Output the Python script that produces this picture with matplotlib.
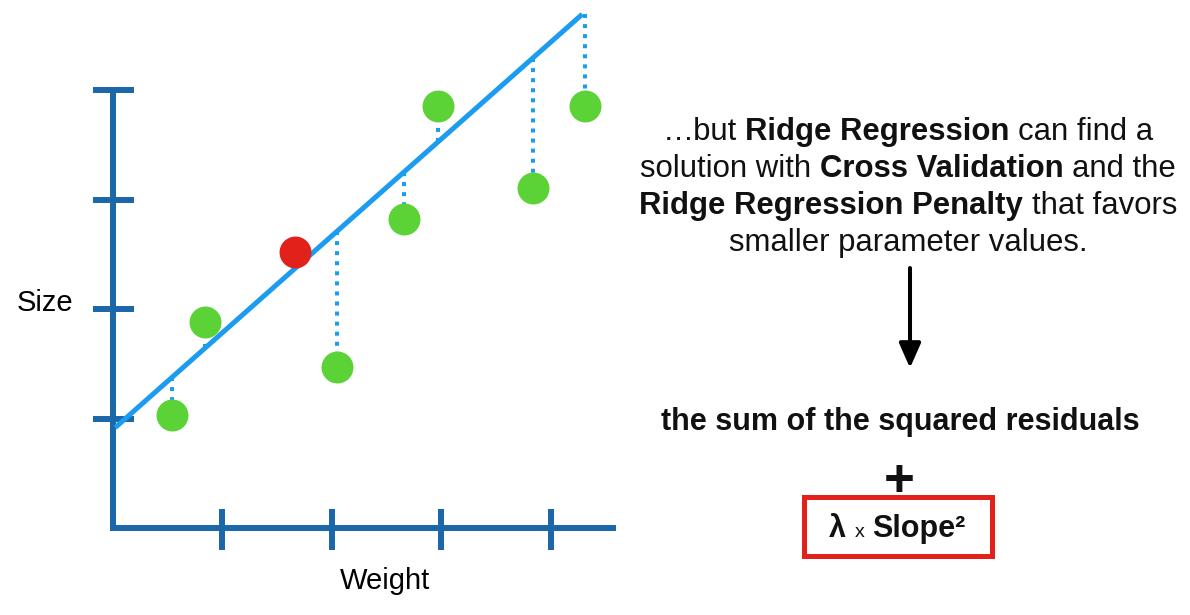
import matplotlib.pyplot as plt
import numpy as np
from matplotlib.patches import Rectangle, FancyArrowPatch

# data (axis units: one tick = 1)
weight = [0.54, 0.84, 2.05, 2.66, 2.97, 3.84, 4.31]
size = [1.03, 1.88, 1.47, 2.82, 3.86, 3.11, 3.86]
red_weight = [1.66]
red_size = [2.52]
intercept = 0.9
slope = 0.885
line_x = [0.02, 4.29]
x_ticks = [1, 2, 3, 4]
y_ticks = [1, 2, 3, 4]

W, H = 1190, 615
unit = 109.4          # pixels per axis unit
ox, oy = 113, 528     # pixel position of the origin

axis_col = "#1b67a9"
line_col = "#1c9cf0"
green = "#5bd236"
red = "#e3211b"
font = "Liberation Sans"

fig = plt.figure(figsize=(W / 100, H / 100), dpi=100)
ax = fig.add_axes([0, 0, 1, 1])
ax.set_xlim(-ox / unit, (W - ox) / unit)
ax.set_ylim((oy - H) / unit, oy / unit)
ax.axis("off")

# axes
ax.plot([0, 0, 4.6], [4, 0, 0], color=axis_col, lw=4.3, solid_joinstyle="miter",
        solid_capstyle="butt", zorder=1)
for t in y_ticks:
    ax.plot([-0.18, 0.19], [t, t], color=axis_col, lw=4.3, solid_capstyle="butt", zorder=1)
for t in x_ticks:
    ax.plot([t, t], [-0.2, 0.17], color=axis_col, lw=4.3, solid_capstyle="butt", zorder=1)

# fitted line and residuals
lx = np.array(line_x)
top = intercept + slope * lx[-1]
ax.plot(lx, intercept + slope * lx, color=line_col, lw=3.6, solid_capstyle="butt", zorder=3)
for x, y in zip(weight, size):
    fit = min(intercept + slope * x, top)
    ax.plot([x, x], [fit, y], color=line_col, lw=2.9, linestyle=(0, (1, 1.5)),
            dash_capstyle="butt", zorder=2)

ax.plot(weight, size, "o", ms=23, color=green, mec="none", zorder=4)
ax.plot(red_weight, red_size, "o", ms=23, color=red, mec="none", zorder=4)


def fx(px):
    return px / W


def fy(py):
    return 1 - py / H


fig.text(fx(45), fy(311), "Size", fontsize=21, family=font, ha="center", va="baseline")
fig.text(fx(385), fy(589), "Weight", fontsize=21, family=font, ha="center", va="baseline")

renderer = fig.canvas.get_renderer()


def text_width(s, weight_, fs):
    t = fig.text(0, 0, s, fontsize=fs, family=font, fontweight=weight_)
    w = t.get_window_extent(renderer).width
    t.remove()
    return w


def rich_line(segments, cx, base, fs):
    space = {}
    for wt in ("normal", "bold"):
        space[wt] = text_width("x x", wt, fs) - text_width("xx", wt, fs)
    pieces = []
    total = 0
    for s, bold in segments:
        wt = "bold" if bold else "normal"
        lead = len(s) - len(s.lstrip(" "))
        trail = len(s) - len(s.rstrip(" "))
        core = s.strip(" ")
        w = text_width(core, wt, fs)
        pieces.append((core, wt, lead * space[wt], w, trail * space[wt]))
        total += lead * space[wt] + w + trail * space[wt]
    x = cx - total / 2
    for core, wt, lead, w, trail in pieces:
        x += lead
        fig.text(fx(x), fy(base), core, fontsize=fs, family=font, fontweight=wt,
                 ha="left", va="baseline", color="#111111")
        x += w + trail


para = [
    [("\u2026but ", False), ("Ridge Regression", True), (" can find a", False)],
    [("solution with ", False), ("Cross Validation", True), (" and the", False)],
    [("Ridge Regression Penalty", True), (" that favors", False)],
    [("smaller parameter values.", False)],
]
for i, segs in enumerate(para):
    rich_line(segs, 908, 140 + 37 * i, 22.4)

rich_line([("the sum of the squared residuals", True)], 900, 430, 22)

fig.text(fx(899), fy(477), "+", fontsize=38, family=font, fontweight="bold",
         ha="center", va="center_baseline", color="#111111")

fig.add_artist(Rectangle((fx(804), fy(556)), (992 - 804) / W, (556 - 497) / H,
                         transform=fig.transFigure, fill=False, ec=red, lw=3.6))

# λ x Slope²
fig.text(fx(829), fy(537), "\u03bb", fontsize=22, family=font, fontweight="bold",
         ha="left", va="baseline", color="#111111")
fig.text(fx(855), fy(537), "x", fontsize=14, family=font, ha="left", va="baseline",
         color="#111111")
fig.text(fx(872), fy(537), "Slope\u00b2", fontsize=22, family=font, fontweight="bold",
         ha="left", va="baseline", color="#111111")

fig.add_artist(FancyArrowPatch((fx(910), fy(268)), (fx(910), fy(368)),
                               transform=fig.transFigure,
                               arrowstyle="-|>,head_width=0.33,head_length=0.75",
                               mutation_scale=20, lw=2.9, color="black",
                               shrinkA=0, shrinkB=0))

fig.savefig("out.png", dpi=100)
